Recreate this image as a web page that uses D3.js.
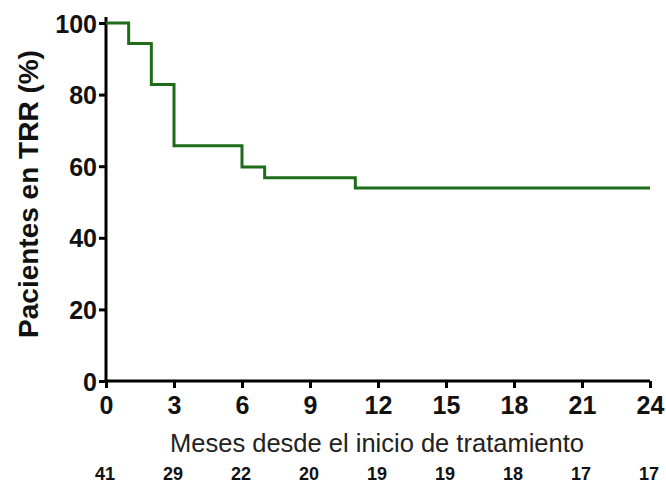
<!DOCTYPE html>
<html>
<head>
<meta charset="utf-8">
<script src="https://cdn.jsdelivr.net/npm/d3@7"></script>
<style>
  body { margin: 0; background: #fff; }
  text { font-family: "Liberation Sans", Arial, sans-serif; }
</style>
</head>
<body>
<svg id="chart"></svg>
<script>
// step times (months) and percent of patients still in TRR
const months = [0, 1, 2, 3, 6, 7, 11, 24];
const percent = [100, 94.3, 82.8, 65.7, 59.8, 56.8, 53.9, 53.9];
const xTicks = [0, 3, 6, 9, 12, 15, 18, 21, 24];
const yTicks = [0, 20, 40, 60, 80, 100];
const atRisk = [41, 29, 22, 20, 19, 19, 18, 17, 17];

const containerWidth = 666, containerHeight = 483;
let margin = { top: 23, right: 16, bottom: 102, left: 106 };
let width = containerWidth - margin.left - margin.right,
    height = containerHeight - margin.top - margin.bottom;

let svg = d3.select('#chart')
  .attr('width', containerWidth)
  .attr('height', containerHeight);

let chart = svg.append('g')
  .attr('transform', `translate(${margin.left}, ${margin.top})`);

let x = d3.scaleLinear().domain([0, 24]).range([0, width]);
let y = d3.scaleLinear().domain([0, 100]).range([height, 0]);

// X axis
let xAxis = chart.append('g')
  .attr('transform', `translate(0, ${height})`)
  .call(d3.axisBottom(x).tickValues(xTicks).tickSizeInner(7).tickSizeOuter(0).tickPadding(9));
xAxis.selectAll('text')
  .attr('font-size', 25).attr('font-weight', 'bold').attr('fill', '#111')
  .attr('dy', '0.68em');

// Y axis
let yAxis = chart.append('g')
  .call(d3.axisLeft(y).tickValues(yTicks).tickSizeInner(7).tickSizeOuter(0).tickPadding(2));
yAxis.selectAll('text')
  .attr('font-size', 25).attr('font-weight', 'bold').attr('fill', '#111')
  .attr('dy', '0.36em');

[xAxis, yAxis].forEach((g) => {
  g.select('.domain').attr('stroke', '#000').attr('stroke-width', 3);
  g.selectAll('.tick line').attr('stroke', '#000').attr('stroke-width', 3);
});
yAxis.select('.domain').attr('d', `M0,${height + 1.5}V-6`);
xAxis.select('.domain').attr('d', `M-1.5,0H${width}`);

// KM step line
let line = d3.line()
  .x((d, i) => x(months[i]))
  .y((d) => y(d))
  .curve(d3.curveStepAfter);

chart.append('path')
  .datum(percent)
  .attr('fill', 'none')
  .attr('stroke', '#1f6b1c')
  .attr('stroke-width', 3)
  .attr('d', line);

// Axis titles
svg.append('text')
  .attr('transform', `translate(38, 194) rotate(-90)`)
  .attr('text-anchor', 'middle')
  .attr('font-size', 28)
  .attr('font-weight', 'bold')
  .attr('fill', '#111')
  .text('Pacientes en TRR (%)');

svg.append('text')
  .attr('x', 377)
  .attr('y', 452)
  .attr('text-anchor', 'middle')
  .attr('font-size', 25.5)
  .attr('fill', '#222')
  .text('Meses desde el inicio de tratamiento');

// Numbers at risk
chart.append('g')
  .selectAll('text')
  .data(atRisk)
  .enter().append('text')
    .attr('x', (d, i) => x(xTicks[i]) - 1)
    .attr('y', 480 - margin.top)
    .attr('text-anchor', 'middle')
    .attr('font-size', 18)
    .attr('font-weight', 'bold')
    .attr('fill', '#111')
    .text((d) => d);
</script>
</body>
</html>
